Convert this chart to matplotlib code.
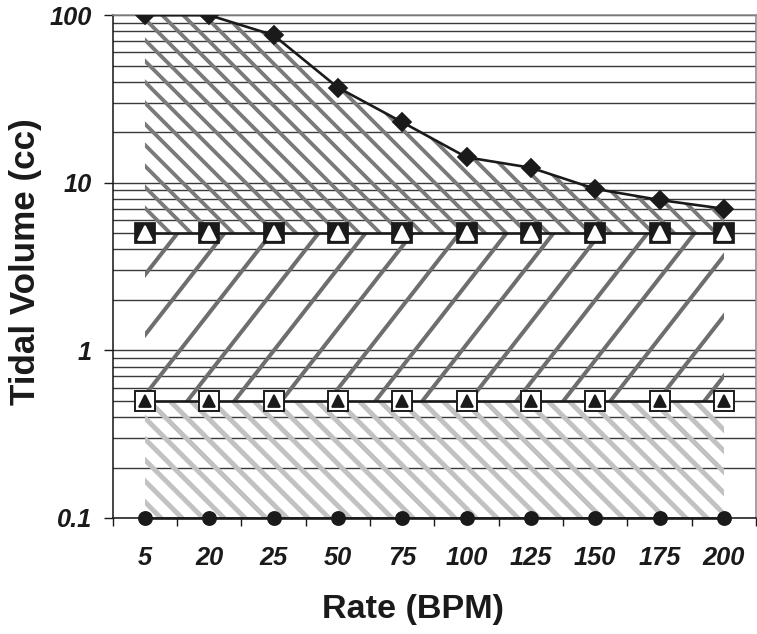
import matplotlib.pyplot as plt
import numpy as np
from matplotlib.ticker import FixedLocator, NullFormatter, NullLocator

plt.rcParams['font.family'] = 'Liberation Sans'

# data
rates = ['5', '20', '25', '50', '75', '100', '125', '150', '175', '200']
max_volume = [100, 100, 76, 37, 23, 14.2, 12.3, 9.2, 7.9, 7.0]
upper_volume = [5, 5, 5, 5, 5, 5, 5, 5, 5, 5]
lower_volume = [0.5, 0.5, 0.5, 0.5, 0.5, 0.5, 0.5, 0.5, 0.5, 0.5]
min_volume = [0.1, 0.1, 0.1, 0.1, 0.1, 0.1, 0.1, 0.1, 0.1, 0.1]

x = np.arange(len(rates))

dpi = 126
fig = plt.figure(figsize=(757 / dpi, 634 / dpi), dpi=dpi)
ax = fig.add_axes([0.149, 0.183, 0.8497, 0.793])

ax.set_yscale('log')
ax.set_ylim(0.1, 100)
ax.set_xlim(-0.5, len(rates) - 0.5)

# horizontal gridlines at every log step
grid_vals = [m * 10.0 ** e for e in (-1, 0, 1) for m in range(1, 10)] + [100]
for g in grid_vals:
    ax.axhline(g, color='#3a3a3a', lw=0.8, zorder=1)

# hatched bands
plt.rcParams['hatch.linewidth'] = 2.2
ax.fill_between(x, upper_volume, max_volume, facecolor='none', edgecolor='#7a7a7a',
                hatch='\\\\', lw=0, zorder=2)
plt.rcParams['hatch.linewidth'] = 2.8
ax.fill_between(x, min_volume, lower_volume, facecolor='none', edgecolor='#c2c2c2',
                hatch='\\\\', lw=0, zorder=2)

# middle band: wider, steeper diagonal texture clipped to the band
mid = ax.fill_between(x, lower_volume, upper_volume, facecolor='none', lw=0, zorder=2)
fig.canvas.draw()
bb = ax.get_window_extent()
W, H = bb.width, bb.height
step, ang = 47.0, np.deg2rad(52)
run = H / np.tan(ang)
for x0 in np.arange(-run, W + step, step):
    ln, = ax.plot([x0 / W, (x0 + run) / W], [0, 1], transform=ax.transAxes,
                  color='#6e6e6e', lw=2.3, solid_capstyle='butt', zorder=2)
    ln.set_clip_path(mid.get_paths()[0], transform=ax.transData)

# lines + markers
ax.plot(x, max_volume, color='#1a1a1a', lw=1.5, marker='D', ms=7.5,
        mfc='#1a1a1a', mec='#1a1a1a', zorder=5)
ax.plot(x, upper_volume, color='#1a1a1a', lw=1.5, marker='s', ms=11.5,
        mfc='#1a1a1a', mec='#1a1a1a', zorder=5)
ax.plot(x, upper_volume, lw=0, marker='^', ms=7.5, mfc='white', mec='white', zorder=6)
ax.plot(x, lower_volume, color='#1a1a1a', lw=1.5, marker='s', ms=11,
        mfc='white', mec='#1a1a1a', mew=1.1, zorder=5)
ax.plot(x, lower_volume, lw=0, marker='^', ms=7, mfc='#1a1a1a', mec='#1a1a1a', zorder=6)
ax.plot(x, min_volume, color='#1a1a1a', lw=1.5, marker='o', ms=7.5,
        mfc='#1a1a1a', mec='#1a1a1a', zorder=5, clip_on=False)

# axes styling
ax.yaxis.set_major_locator(FixedLocator([0.1, 1, 10, 100]))
ax.yaxis.set_minor_locator(NullLocator())
ax.yaxis.set_minor_formatter(NullFormatter())
ax.set_yticklabels(['0.1', '1', '10', '100'])
ax.tick_params(axis='y', which='major', length=5, width=0.8, pad=7, direction='out',
               labelsize=14.5, color='#1a1a1a')

ax.set_xticks(x)
ax.set_xticklabels(rates)
ax.xaxis.set_minor_locator(FixedLocator(np.arange(-0.5, len(rates), 1.0)))
ax.tick_params(axis='x', which='major', length=0, pad=16, labelsize=14.5)
ax.tick_params(axis='x', which='minor', length=4.5, width=0.8, direction='out', color='#1a1a1a')

for lab in ax.get_xticklabels() + ax.get_yticklabels():
    lab.set_fontweight('bold')
    lab.set_fontstyle('italic')
    lab.set_color('#1a1a1a')

ax.spines['left'].set_color('#1a1a1a')
ax.spines['bottom'].set_color('#1a1a1a')
ax.spines['top'].set_color('#8c8c8c')
ax.spines['right'].set_color('#8c8c8c')
for s in ax.spines.values():
    s.set_linewidth(0.9)

ax.set_xlabel('Rate (BPM)', fontsize=19.5, fontweight='bold', color='#1a1a1a')
ax.set_ylabel('Tidal Volume (cc)', fontsize=20, fontweight='bold', color='#1a1a1a')
ax.xaxis.set_label_coords(0.466, -0.152)
ax.yaxis.set_label_coords(-0.110, 0.509)

plt.savefig('out.png', dpi=dpi)
